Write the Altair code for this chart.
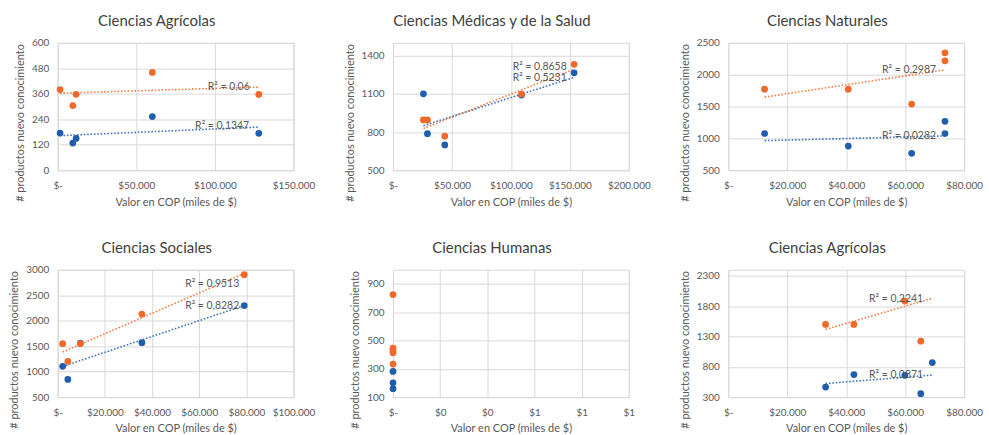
import altair as alt
import pandas as pd

AZUL = "#1f5dad"
NARANJA = "#f0682a"
FUENTE = "Lato"
GRIS = "#595959"
GRIS_GRID = "#d9d9d9"

TITULO_X = "Valor en COP (miles de $)"
TITULO_Y = "# productos nuevo conocimiento"

# --- Ciencias Agrícolas (fila superior) ---
agr1_x = [1500, 9600, 11700, 60200, 127900]
agr1_azul = [175, 128, 150, 253, 174]
agr1_naranja = [380, 305, 358, 461, 357]
agr1_r2 = ["R² = 0,06", "R² = 0,1347"]
agr1_r2_x = [108800, 104600]
agr1_r2_y = [393, 207]

# --- Ciencias Médicas y de la Salud ---
med_x = [25800, 29200, 43900, 109000, 153600]
med_azul = [1100, 787, 699, 1090, 1265]
med_naranja = [895, 895, 767, 1098, 1332]
med_r2 = ["R² = 0,8658", "R² = 0,5231"]
med_r2_x = [124400, 124400]
med_r2_y = [1310, 1228]

# --- Ciencias Naturales ---
nat_x = [12300, 40700, 62200, 73500, 73500]
nat_azul = [1077, 879, 765, 1269, 1077]
nat_naranja = [1773, 1773, 1539, 2344, 2219]
nat_r2 = ["R² = 0,2987", "R² = 0,0282"]
nat_r2_x = [61300, 61300]
nat_r2_y = [2073, 1045]

# --- Ciencias Sociales ---
soc_x = [2100, 4300, 9600, 35700, 79100]
soc_azul = [1105, 846, 1560, 1568, 2297]
soc_naranja = [1549, 1203, 1549, 2131, 2902]
soc_r2 = ["R² = 0,9513", "R² = 0,8282"]
soc_r2_x = [65500, 65500]
soc_r2_y = [2721, 2297]

# --- Ciencias Humanas (sin valor en COP) ---
hum_x_azul = [0, 0, 0]
hum_azul = [281, 201, 159]
hum_x_naranja = [0, 0, 0, 0, 0]
hum_naranja = [825, 446, 430, 413, 333]

# --- Ciencias Agrícolas (fila inferior) ---
agr2_x_azul = [33000, 42600, 59900, 65300, 69200]
agr2_azul = [466, 671, 660, 356, 870]
agr2_x_naranja = [33000, 42600, 59900, 65300]
agr2_naranja = [1499, 1499, 1884, 1222]
# línea de tendencia naranja publicada (extremos)
agr2_tend_naranja_x = [33000, 69200]
agr2_tend_naranja_y = [1416, 1929]
agr2_r2 = ["R² = 0,2241", "R² = 0,0871"]
agr2_r2_x = [56900, 56900]
agr2_r2_y = [1917, 659]


def puntos(x_azul, y_azul, x_naranja, y_naranja):
    # azul primero para que el naranja quede encima
    return pd.DataFrame({
        "x": list(x_azul) + list(x_naranja),
        "y": list(y_azul) + list(y_naranja),
        "serie": ["azul"] * len(x_azul) + ["naranja"] * len(x_naranja),
    })


ETIQUETA_X = ("datum.value == 0 ? '$-' : "
              "'$' + replace(format(datum.value, ',.0f'), ',', '.')")

color = alt.Color("serie:N",
                  scale=alt.Scale(domain=["azul", "naranja"], range=[AZUL, NARANJA]),
                  legend=None)

ESTILO_TEND = dict(strokeDash=[1.6, 1.8], strokeWidth=1.6, opacity=0.85)

ANCHO, ALTO = 237, 128


def panel(titulo, df, dom_x, ticks_x, dom_y, ticks_y, r2=None,
          regresion=("azul", "naranja"), tend_fija=None):
    x_enc = alt.X("x:Q",
                  scale=alt.Scale(domain=dom_x, nice=False, zero=False),
                  axis=alt.Axis(values=ticks_x, labelExpr=ETIQUETA_X, title=TITULO_X))
    y_enc = alt.Y("y:Q",
                  scale=alt.Scale(domain=dom_y, nice=False, zero=False),
                  axis=alt.Axis(values=ticks_y, format="d", title=TITULO_Y))
    capas = []
    if regresion:
        extent = [float(df["x"].min()), float(df["x"].max())]
        capas.append(
            alt.Chart(df[df["serie"].isin(regresion)])
            .transform_regression("x", "y", groupby=["serie"], extent=extent)
            .mark_line(**ESTILO_TEND)
            .encode(x=x_enc, y=y_enc, color=color)
        )
    if tend_fija is not None:
        serie, tx, ty = tend_fija
        capas.append(
            alt.Chart(pd.DataFrame({"x": tx, "y": ty, "serie": [serie] * len(tx)}))
            .mark_line(**ESTILO_TEND)
            .encode(x=x_enc, y=y_enc, color=color)
        )
    capas.append(
        alt.Chart(df).mark_circle(size=46, opacity=1).encode(x=x_enc, y=y_enc, color=color)
    )
    if r2 is not None:
        textos, rx, ry = r2
        capas.append(
            alt.Chart(pd.DataFrame({"x": rx, "y": ry, "texto": textos}))
            .mark_text(font=FUENTE, fontSize=10.5, color=GRIS, align="center", baseline="middle")
            .encode(x=x_enc, y=y_enc, text="texto:N")
        )
    # sin etiqueta en el borde superior del eje Y, el título baja; se compensa
    dy = 0 if ticks_y[-1] >= dom_y[1] else -5
    return alt.layer(*capas).properties(
        width=ANCHO, height=ALTO,
        title=alt.TitleParams(titulo, anchor="middle", frame="group", dx=-19, dy=dy),
    )


paneles = [
    panel("Ciencias Agrícolas",
          puntos(agr1_x, agr1_azul, agr1_x, agr1_naranja),
          [0, 150000], [0, 50000, 100000, 150000],
          [0, 600], [0, 120, 240, 360, 480, 600],
          r2=(agr1_r2, agr1_r2_x, agr1_r2_y)),
    panel("Ciencias Médicas y de la Salud",
          puntos(med_x, med_azul, med_x, med_naranja),
          [0, 200000], [0, 50000, 100000, 150000, 200000],
          [500, 1500], [500, 800, 1100, 1400],
          r2=(med_r2, med_r2_x, med_r2_y)),
    panel("Ciencias Naturales",
          puntos(nat_x, nat_azul, nat_x, nat_naranja),
          [0, 80000], [0, 20000, 40000, 60000, 80000],
          [500, 2500], [500, 1000, 1500, 2000, 2500],
          r2=(nat_r2, nat_r2_x, nat_r2_y)),
    panel("Ciencias Sociales",
          puntos(soc_x, soc_azul, soc_x, soc_naranja),
          [0, 100000], [0, 20000, 40000, 60000, 80000, 100000],
          [500, 3000], [500, 1000, 1500, 2000, 2500, 3000],
          r2=(soc_r2, soc_r2_x, soc_r2_y)),
    panel("Ciencias Humanas",
          puntos(hum_x_azul, hum_azul, hum_x_naranja, hum_naranja),
          [0, 1], [0, 0.2, 0.4, 0.6, 0.8, 1],
          [100, 1000], [100, 300, 500, 700, 900],
          regresion=()),
    panel("Ciencias Agrícolas",
          puntos(agr2_x_azul, agr2_azul, agr2_x_naranja, agr2_naranja),
          [0, 80000], [0, 20000, 40000, 60000, 80000],
          [300, 2400], [300, 800, 1300, 1800, 2300],
          r2=(agr2_r2, agr2_r2_x, agr2_r2_y),
          regresion=("azul",),
          tend_fija=("naranja", agr2_tend_naranja_x, agr2_tend_naranja_y)),
]

chart = (
    alt.concat(*paneles, columns=3, spacing={"row": 100, "column": 100}, bounds="flush")
    .configure(font=FUENTE, background="white",
               padding={"left": 8, "top": 12, "right": 5, "bottom": 0})
    .configure_view(stroke=GRIS_GRID, strokeWidth=1)
    .configure_axis(grid=True, gridColor=GRIS_GRID, gridWidth=1,
                    domain=False, ticks=False,
                    labelFont=FUENTE, labelFontSize=10, labelColor=GRIS,
                    titleFont=FUENTE, titleFontSize=11, titleColor=GRIS,
                    titleFontWeight="normal")
    .configure_axisX(labelPadding=10, titlePadding=6, labelFlush=False)
    .configure_axisY(labelPadding=9, titlePadding=6, titleY=ALTO / 2 + 16)
    .configure_title(font=FUENTE, fontSize=15, fontWeight="normal",
                     color="#404040", offset=9)
)

chart.save("out.html", embed_options={"renderer": "svg", "actions": False})
